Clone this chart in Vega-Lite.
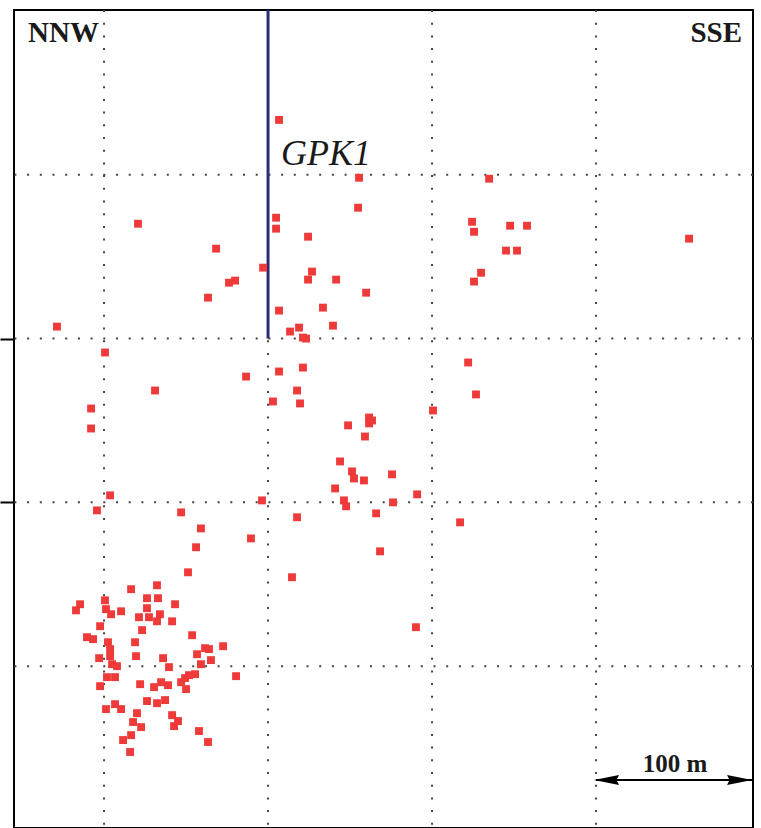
{
  "$schema": "https://vega.github.io/schema/vega-lite/v6.json",
  "width": 739,
  "height": 818,
  "autosize": {"type": "none"},
  "padding": {"left": 14, "top": 10, "right": 8, "bottom": 0},
  "background": "white",
  "config": {"view": {"stroke": "black", "strokeWidth": 2}},
  "datasets": {
    "events": [
      {"x": 6.7, "y": 133.5}, {"x": 55.5, "y": 98.2}, {"x": 134.8, "y": 97.6}, {"x": 54.9, "y": 79.9},
      {"x": -79.3, "y": 70.1}, {"x": 4.9, "y": 73.8}, {"x": 4.9, "y": 67.1}, {"x": 24.4, "y": 62.2},
      {"x": -31.7, "y": 54.9}, {"x": -3.0, "y": 43.3}, {"x": 26.8, "y": 40.9}, {"x": 24.4, "y": 36.0},
      {"x": 41.5, "y": 36.0}, {"x": -23.8, "y": 34.1}, {"x": -20.1, "y": 35.4}, {"x": 59.8, "y": 28.0},
      {"x": -36.6, "y": 25.0}, {"x": 6.7, "y": 17.1}, {"x": 33.5, "y": 18.9}, {"x": 39.6, "y": 7.9},
      {"x": 13.4, "y": 4.3}, {"x": 18.9, "y": 6.7}, {"x": 21.3, "y": 0.6}, {"x": 23.2, "y": 0.0},
      {"x": -128.7, "y": 7.3}, {"x": 124.4, "y": 71.3}, {"x": 125.6, "y": 65.2}, {"x": 147.6, "y": 68.9},
      {"x": 157.9, "y": 68.9}, {"x": 145.1, "y": 53.7}, {"x": 151.8, "y": 53.7}, {"x": 129.9, "y": 40.2},
      {"x": 125.6, "y": 34.8}, {"x": 256.7, "y": 61.0}, {"x": -99.4, "y": -8.5}, {"x": -13.4, "y": -23.2},
      {"x": -68.9, "y": -31.7}, {"x": -107.9, "y": -42.7}, {"x": -107.9, "y": -54.9}, {"x": 6.7, "y": -20.1},
      {"x": 3.0, "y": -38.4}, {"x": 17.7, "y": -31.7}, {"x": 19.5, "y": -39.6}, {"x": 21.3, "y": -17.7},
      {"x": 122.0, "y": -14.6}, {"x": 126.8, "y": -34.1}, {"x": 100.6, "y": -43.9}, {"x": 61.6, "y": -48.2},
      {"x": 63.4, "y": -50.0}, {"x": 61.6, "y": -51.8}, {"x": 48.8, "y": -53.0}, {"x": 59.1, "y": -59.8},
      {"x": 43.9, "y": -75.0}, {"x": 51.2, "y": -81.1}, {"x": 52.4, "y": -85.4}, {"x": 58.5, "y": -86.6},
      {"x": 75.6, "y": -82.9}, {"x": 40.9, "y": -91.5}, {"x": 46.3, "y": -98.8}, {"x": 47.6, "y": -102.4},
      {"x": 76.2, "y": -100.0}, {"x": 90.9, "y": -95.1}, {"x": 65.9, "y": -106.7}, {"x": -3.7, "y": -98.8},
      {"x": 17.7, "y": -109.1}, {"x": 117.1, "y": -112.2}, {"x": 68.3, "y": -129.9}, {"x": 14.6, "y": -145.7},
      {"x": -96.3, "y": -95.7}, {"x": -104.3, "y": -104.9}, {"x": -53.0, "y": -106.1}, {"x": -40.9, "y": -115.9},
      {"x": -43.9, "y": -127.4}, {"x": -10.4, "y": -122.0}, {"x": -48.8, "y": -142.7}, {"x": 90.2, "y": -176.2},
      {"x": -83.5, "y": -153.0}, {"x": -67.7, "y": -150.6}, {"x": -114.6, "y": -162.2}, {"x": -117.1, "y": -165.9},
      {"x": -99.4, "y": -159.8}, {"x": -98.8, "y": -165.2}, {"x": -95.7, "y": -168.3}, {"x": -89.6, "y": -166.5},
      {"x": -73.8, "y": -158.5}, {"x": -67.1, "y": -158.5}, {"x": -56.7, "y": -162.2}, {"x": -73.8, "y": -164.6},
      {"x": -78.7, "y": -170.1}, {"x": -72.6, "y": -170.1}, {"x": -65.9, "y": -168.3}, {"x": -67.7, "y": -172.6},
      {"x": -58.5, "y": -172.6}, {"x": -102.4, "y": -175.6}, {"x": -76.8, "y": -178.0}, {"x": -110.4, "y": -182.3},
      {"x": -106.7, "y": -183.5}, {"x": -46.3, "y": -181.1}, {"x": -97.6, "y": -185.4}, {"x": -81.1, "y": -185.4},
      {"x": -96.3, "y": -189.6}, {"x": -80.5, "y": -193.9}, {"x": -103.0, "y": -195.1}, {"x": -96.3, "y": -193.9},
      {"x": -95.1, "y": -198.8}, {"x": -92.1, "y": -200.0}, {"x": -64.0, "y": -195.1}, {"x": -60.4, "y": -200.6},
      {"x": -43.3, "y": -192.7}, {"x": -38.4, "y": -189.0}, {"x": -36.0, "y": -189.6}, {"x": -27.4, "y": -187.8},
      {"x": -34.8, "y": -196.3}, {"x": -40.9, "y": -198.8}, {"x": -19.5, "y": -206.1}, {"x": -48.2, "y": -205.5},
      {"x": -44.5, "y": -204.9}, {"x": -50.6, "y": -207.3}, {"x": -53.0, "y": -209.8}, {"x": -50.0, "y": -214.0},
      {"x": -98.2, "y": -206.7}, {"x": -93.3, "y": -206.7}, {"x": -102.4, "y": -212.2}, {"x": -78.0, "y": -211.0},
      {"x": -69.5, "y": -212.8}, {"x": -65.2, "y": -209.8}, {"x": -61.0, "y": -211.6}, {"x": -73.8, "y": -221.3},
      {"x": -67.7, "y": -222.6}, {"x": -62.8, "y": -220.7}, {"x": -98.8, "y": -226.2}, {"x": -93.3, "y": -223.2},
      {"x": -89.6, "y": -226.2}, {"x": -79.9, "y": -228.7}, {"x": -82.3, "y": -234.1}, {"x": -77.4, "y": -237.2},
      {"x": -58.5, "y": -229.9}, {"x": -54.9, "y": -233.5}, {"x": -57.3, "y": -236.6}, {"x": -42.1, "y": -239.6},
      {"x": -83.5, "y": -242.1}, {"x": -88.4, "y": -245.1}, {"x": -36.6, "y": -246.3}, {"x": -84.1, "y": -252.4}
    ],
    "vgrid": [{"x": -100}, {"x": 0}, {"x": 100}, {"x": 200}],
    "hgrid": [{"y": 100}, {"y": 0}, {"y": -100}, {"y": -200}],
    "well": [{"x": 0, "y": 0, "y2": 200.6}],
    "labelL": [{"x": -146.3, "y": 181.1, "label": "NNW"}],
    "labelR": [{"x": 289.0, "y": 181.1, "label": "SSE"}],
    "welllabel": [{"x": 7.9, "y": 106.1, "label": "GPK1"}],
    "scalebar": [{"x": 200, "x2": 295.6, "y": -269.5}],
    "scaletext": [{"x": 248.2, "y": -264.6, "label": "100 m"}],
    "arrowL": [{"x": 206.4, "y": -269.5}],
    "arrowR": [{"x": 287.5, "y": -269.5}]
  },
  "layer": [
    {
      "data": {"name": "vgrid"},
      "mark": {"type": "rule", "color": "#444", "strokeWidth": 2, "strokeDash": [2, 10.7]},
      "encoding": {
        "x": {"field": "x", "type": "quantitative", "scale": {"domain": [-154.9, 295.7], "nice": false, "zero": false}, "axis": null}
      }
    },
    {
      "data": {"name": "hgrid"},
      "mark": {"type": "rule", "color": "#444", "strokeWidth": 2, "strokeDash": [2, 10.7]},
      "encoding": {
        "y": {"field": "y", "type": "quantitative", "scale": {"domain": [-298.8, 200.6], "nice": false, "zero": false}, "axis": {"values": [0, -100], "tickSize": 14, "tickWidth": 2, "tickColor": "black", "labels": false, "domain": false, "grid": false, "title": null}}
      }
    },
    {
      "data": {"name": "well"},
      "mark": {"type": "rule", "color": "#2b2b78", "strokeWidth": 3},
      "encoding": {
        "x": {"field": "x", "type": "quantitative", "axis": null},
        "y": {"field": "y", "type": "quantitative"},
        "y2": {"field": "y2"}
      }
    },
    {
      "data": {"name": "events"},
      "mark": {"type": "point", "shape": "square", "filled": true, "size": 62, "color": "#ee3b3a", "opacity": 1},
      "encoding": {
        "x": {"field": "x", "type": "quantitative", "axis": null},
        "y": {"field": "y", "type": "quantitative"}
      }
    },
    {
      "data": {"name": "labelL"},
      "mark": {"type": "text", "font": "Liberation Serif", "fontWeight": "bold", "fontSize": 29, "align": "left", "baseline": "alphabetic", "color": "#1a1a1a"},
      "encoding": {
        "x": {"field": "x", "type": "quantitative", "axis": null},
        "y": {"field": "y", "type": "quantitative"},
        "text": {"field": "label"}
      }
    },
    {
      "data": {"name": "labelR"},
      "mark": {"type": "text", "font": "Liberation Serif", "fontWeight": "bold", "fontSize": 29, "align": "right", "baseline": "alphabetic", "color": "#1a1a1a"},
      "encoding": {
        "x": {"field": "x", "type": "quantitative", "axis": null},
        "y": {"field": "y", "type": "quantitative"},
        "text": {"field": "label"}
      }
    },
    {
      "data": {"name": "welllabel"},
      "mark": {"type": "text", "font": "Liberation Serif", "fontStyle": "italic", "fontSize": 36, "align": "left", "baseline": "alphabetic", "color": "#1a1a1a"},
      "encoding": {
        "x": {"field": "x", "type": "quantitative", "axis": null},
        "y": {"field": "y", "type": "quantitative"},
        "text": {"field": "label"}
      }
    },
    {
      "data": {"name": "scalebar"},
      "mark": {"type": "rule", "color": "black", "strokeWidth": 2},
      "encoding": {
        "x": {"field": "x", "type": "quantitative", "axis": null},
        "x2": {"field": "x2"},
        "y": {"field": "y", "type": "quantitative"}
      }
    },
    {
      "data": {"name": "scaletext"},
      "mark": {"type": "text", "font": "Liberation Serif", "fontWeight": "bold", "fontSize": 25, "align": "center", "baseline": "alphabetic", "color": "#1a1a1a"},
      "encoding": {
        "x": {"field": "x", "type": "quantitative", "axis": null},
        "y": {"field": "y", "type": "quantitative"},
        "text": {"field": "label"}
      }
    },
    {
      "data": {"name": "arrowL"},
      "mark": {"type": "point", "shape": "M-1,0L1,-0.4L0.8,0L1,0.4Z", "filled": true, "size": 625, "color": "black", "opacity": 1},
      "encoding": {
        "x": {"field": "x", "type": "quantitative", "axis": null},
        "y": {"field": "y", "type": "quantitative"}
      }
    },
    {
      "data": {"name": "arrowR"},
      "mark": {"type": "point", "shape": "M1,0L-1,-0.4L-0.8,0L-1,0.4Z", "filled": true, "size": 625, "color": "black", "opacity": 1},
      "encoding": {
        "x": {"field": "x", "type": "quantitative", "axis": null},
        "y": {"field": "y", "type": "quantitative"}
      }
    }
  ]
}
